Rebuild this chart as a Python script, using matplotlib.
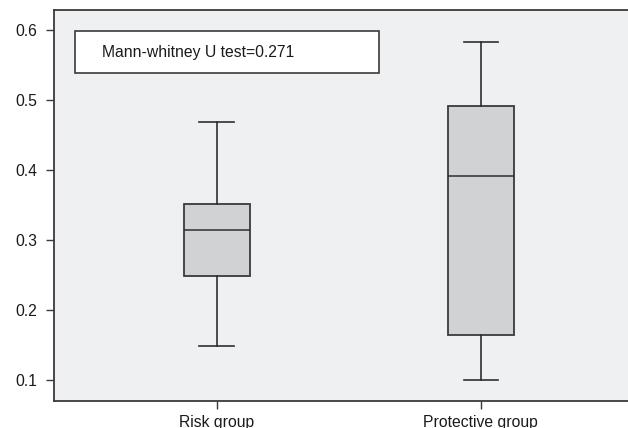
import numpy as np
import matplotlib
matplotlib.use("Agg")
from matplotlib import pyplot as plt
from matplotlib.patches import Rectangle

# values
groups = ["Risk group", "Protective group"]
whisker_low = [0.148, 0.100]
q1 = [0.248, 0.164]
median = [0.315, 0.391]
q3 = [0.352, 0.491]
whisker_high = [0.468, 0.583]
test_label = "Mann-whitney U test=0.271"
yticks = [0.1, 0.2, 0.3, 0.4, 0.5, 0.6]

plt.rcParams['font.family'] = ['Liberation Sans', 'DejaVu Sans']

fig = plt.figure(figsize=(6.28, 4.28), dpi=100)
W, H = 628, 428
ax = fig.add_axes([54 / W, 1 - 401 / H, (628 - 54) / W, (401 - 10) / H])
ax.set_facecolor('#eff0f2')

stats = []
for i in range(len(groups)):
    stats.append({
        'label': groups[i],
        'whislo': whisker_low[i],
        'q1': q1[i],
        'med': median[i],
        'q3': q3[i],
        'whishi': whisker_high[i],
        'fliers': [],
    })

line_col = '#2e2e2e'
ax.bxp(stats, positions=[1, 2], widths=0.25, patch_artist=True,
       showfliers=False,
       boxprops=dict(facecolor='#d1d2d4', edgecolor='#3a3a3a', linewidth=1.3),
       medianprops=dict(color=line_col, linewidth=1.1),
       whiskerprops=dict(color=line_col, linewidth=1.2),
       capprops=dict(color=line_col, linewidth=1.2),
       capwidths=0.13)

ax.set_xlim(0.384, 2.558)
ax.set_ylim(0.07, 0.6286)
ax.set_yticks(yticks)
ax.set_yticklabels(["%.1f" % t for t in yticks])

ax.spines['right'].set_visible(False)
for s in ['left', 'top', 'bottom']:
    ax.spines[s].set_color('#3a3a3a')
    ax.spines[s].set_linewidth(1.3)
ax.tick_params(axis='both', colors='#3a3a3a', labelcolor='#1a1a1a',
               labelsize=11.3, width=1)
ax.tick_params(axis='y', length=6, pad=6)
ax.tick_params(axis='x', length=6, pad=4)

# annotation box
ax.add_patch(Rectangle((75 / W, 1 - 73 / H), (379 - 75) / W, (73 - 31) / H,
                       transform=fig.transFigure, facecolor='white',
                       edgecolor='#3a3a3a', linewidth=1.2, zorder=5))
fig.text(102 / W, 1 - 52 / H, test_label, fontsize=11.3, va='center',
         ha='left', color='#1a1a1a', zorder=6)

fig.savefig('out.png', dpi=100)
